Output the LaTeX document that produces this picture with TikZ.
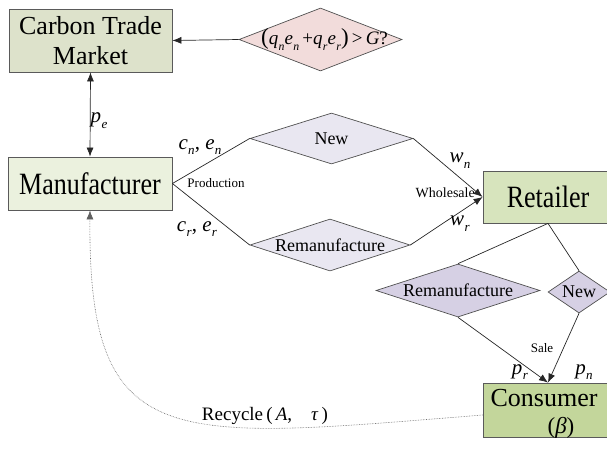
\documentclass[tikz,border=0pt]{standalone}
\usepackage{graphicx}
\usepackage{fontspec}
\setmainfont{Liberation Serif}
\usetikzlibrary{shapes.geometric,arrows.meta}

% italic variable with an italic subscript, set in the text font
\newcommand{\vsub}[2]{\textit{#1}\kern0.02em\raisebox{-0.28em}{\scalebox{0.62}{\textit{#2}}}}

\definecolor{boxline}{HTML}{5A5A5A}
\definecolor{dialine}{HTML}{505050}
\definecolor{ctmfill}{HTML}{DDE2CB}
\definecolor{manfill}{HTML}{EBF1DE}
\definecolor{retfill}{HTML}{D7E4BD}
\definecolor{consfill}{HTML}{C3D69B}
\definecolor{pinkfill}{HTML}{F2DCDB}
\definecolor{lilac}{HTML}{E9E7F1}
\definecolor{lilacdark}{HTML}{D6D0E4}
\definecolor{dotcol}{HTML}{606060}

\tikzset{
  fsz/.style={font=\fontsize{#1}{#1}\selectfont},
  box/.style={draw=boxline, line width=0.8pt, inner sep=0pt},
  dia/.style={diamond, draw=dialine, line width=0.7pt, inner sep=0pt},
  link/.style={draw=black!85, line width=0.7pt},
  tip/.style={-{Latex[length=9pt,width=7pt]}},
  twotip/.style={{Latex[length=9pt,width=7pt]}-{Latex[length=9pt,width=7pt]}},
  recyc/.style={draw=dotcol, line width=0.6pt, densely dotted, -{Latex[length=9pt,width=7pt]}},
  lbl/.style={inner sep=0pt},
}

\begin{document}
\begin{tikzpicture}[x=1pt,y=-1pt]
\useasboundingbox (0,0) rectangle (607,448);

% boxes
\node[box, fill=ctmfill, minimum width=163pt, minimum height=63pt,
      align=center, font=\fontsize{26}{30}\selectfont] (ctm) at (90.5,40.5) {Carbon Trade\\Market};
\node[box, fill=manfill, minimum width=164pt, minimum height=53pt, fsz=31]
      (man) at (90,183.5) {\scalebox{0.84}[1]{Manufacturer}};
\node[box, fill=retfill, minimum width=130pt, minimum height=52pt, fsz=31]
      (ret) at (548,197) {\scalebox{0.84}[1]{Retailer}};
\node[box, fill=consfill, minimum width=130pt, minimum height=54pt] (cons) at (548,410) {};
\node[lbl, fsz=26] (consname) at (544,398) {Consumer};
\node[lbl, fsz=23] (consbeta) at (561,428) {(\textit{β})};

% decision diamonds
\node[dia, fill=pinkfill, minimum width=163pt, minimum height=63pt,
      label={[fsz=19, xshift=4pt]center:{\fontsize{23}{23}\selectfont(}\vsub{q}{n}\vsub{e}{n}\,+\vsub{q}{r}\vsub{e}{r}{\fontsize{23}{23}\selectfont)}\,>\,\textit{G}?}] (cond) at (320.5,39.5) {};
\node[dia, fill=lilac, minimum width=163pt, minimum height=51pt,
      label={[fsz=18]center:New}] (new) at (331.5,138.5) {};
\node[dia, fill=lilac, minimum width=160pt, minimum height=52pt,
      label={[fsz=18]center:Remanufacture}] (rem) at (330,245) {};
\node[dia, fill=lilacdark, minimum width=164pt, minimum height=53pt,
      label={[fsz=18]center:Remanufacture}] (remb) at (458,290.5) {};
\node[dia, fill=lilacdark, minimum width=62pt, minimum height=42pt,
      label={[fsz=18]center:New}] (newb) at (579,292) {};

% connectors
\draw[link, tip] (cond.west) -- (ctm.east);
\draw[link, twotip] (ctm.south) -- (man.north);
\draw[link] (man.east) -- (new.west);
\draw[link] (man.east) -- (rem.west);
\draw[link, tip] (new.east) -- (ret.west);
\draw[link, tip] (rem.east) -- (ret.west);
\draw[link] (ret.south) -- (remb.north);
\draw[link] (ret.south) -- (newb.north);
\draw[link, tip] (remb.south) -- (cons.north);
\draw[link, tip] (newb.south) -- (cons.north);
\draw[recyc] ([yshift=-5pt]cons.west) .. controls (170,440) and (88,455) .. (man.south);

% labels
\node[lbl, fsz=21] (pe) at (99,121) {\vsub{p}{e}};
\node[lbl, fsz=21] (cnen) at (200,147) {\vsub{c}{n}, \vsub{e}{n}};
\node[lbl, fsz=21] (crer) at (197,229) {\vsub{c}{r}, \vsub{e}{r}};
\node[lbl, fsz=13] (prod) at (216,183) {Production};
\node[lbl, fsz=14, anchor=east] (whole) at (475,193) {Wholesale};
\node[lbl, fsz=21] (wn) at (460,161) {\vsub{w}{n}};
\node[lbl, fsz=21] (wr) at (460,224) {\vsub{w}{r}};
\node[lbl, fsz=13] (sale) at (542,348) {Sale};
\node[lbl, fsz=21] (pr) at (520,372) {\vsub{p}{r}};
\node[lbl, fsz=21] (pn) at (584,372) {\vsub{p}{n}};
\node[lbl, fsz=19] (recl) at (265,416) {Recycle\,(\,\textit{A},\quad\textit{τ}\,)};
\end{tikzpicture}
\end{document}
